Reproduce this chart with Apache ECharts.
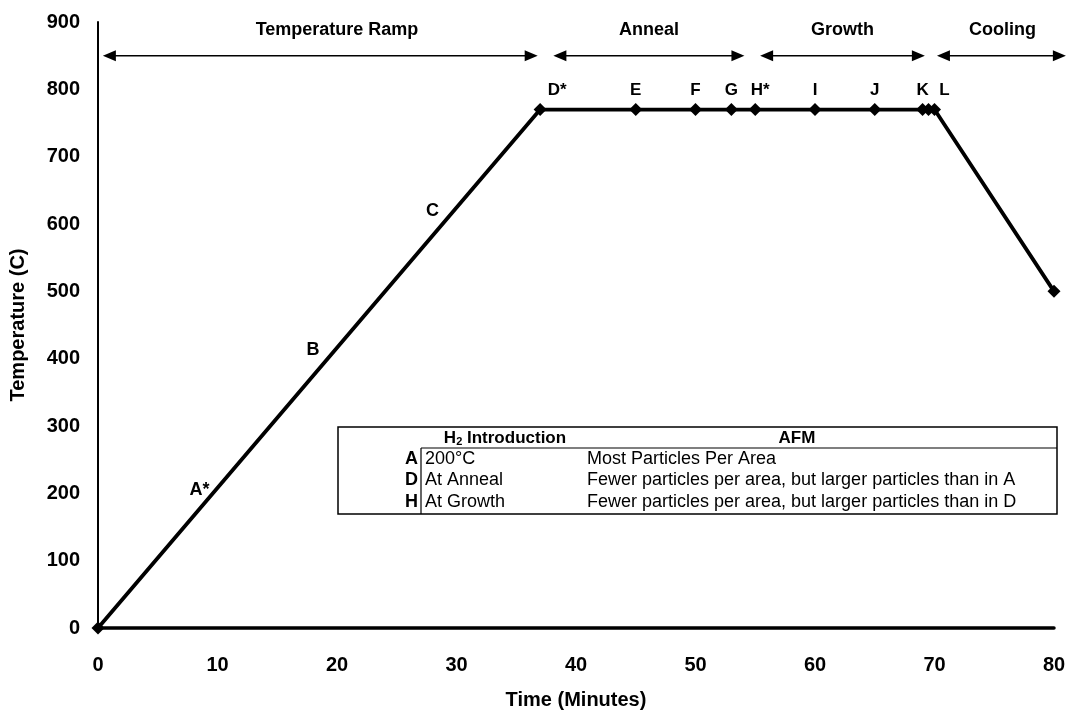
<!DOCTYPE html>
<html>
<head>
<meta charset="utf-8">
<script src="https://cdn.jsdelivr.net/npm/echarts@6/dist/echarts.min.js"></script>
<style>
html, body { margin: 0; padding: 0; background: #fff; }
#main { width: 1077px; height: 715px; }
</style>
</head>
<body>
<div id="main"></div>
<script>
"use strict";
var fontName = 'Liberation Sans';

// process profile
var times = [0, 37, 45, 50, 53, 55, 60, 65, 69, 69.5, 70, 80];
var temps = [0, 770, 770, 770, 770, 770, 770, 770, 770, 770, 770, 500];
var pointLabels = ['', 'D*', 'E', 'F', 'G', 'H*', 'I', 'J', 'K', '', 'L', ''];

// labels along the ramp
var rampLabels = ['A*', 'B', 'C'];
var rampTimes = [8.5, 18, 28];
var rampTemps = [205, 413, 620];

// stage arrows (arrow head centres) and their titles
var stageNames = ['Temperature Ramp', 'Anneal', 'Growth', 'Cooling'];
var stageStart = [0.95, 38.65, 55.95, 70.75];
var stageEnd = [36.25, 53.55, 68.65, 80.45];
var stageTitleX = [20, 46.1, 62.3, 75.7];
var stageLevel = 850;
var stageTitleLevel = 888;

// table
var tableHead = ['H₂ Introduction', 'AFM'];
var tableKeys = ['A', 'D', 'H'];
var tableCol1 = ['200°C', 'At Anneal', 'At Growth'];
var tableCol2 = ['Most Particles Per Area',
	'Fewer particles per area, but larger particles than in A',
	'Fewer particles per area, but larger particles than in D'];

function buildTable() {
	var x0 = 338, y0 = 427, w = 719, h = 87, split = 421, headH = 21, rowH = 21.5;
	var els = [];
	els.push({ type: 'rect', shape: { x: x0, y: y0, width: w, height: h },
		style: { fill: '#fff', stroke: '#000', lineWidth: 1.5 } });
	els.push({ type: 'line', shape: { x1: split, y1: y0 + headH, x2: x0 + w, y2: y0 + headH },
		style: { stroke: '#000', lineWidth: 1.2 } });
	els.push({ type: 'line', shape: { x1: split, y1: y0 + headH, x2: split, y2: y0 + h },
		style: { stroke: '#000', lineWidth: 1.2 } });
	els.push({ type: 'text', x: 505, y: y0 + 11, style: {
		text: '{b|H}{s|2}{b| Introduction}', align: 'center', verticalAlign: 'middle',
		rich: {
			b: { fontFamily: fontName, fontWeight: 'bold', fontSize: 17, fill: '#000' },
			s: { fontFamily: fontName, fontWeight: 'bold', fontSize: 11, fill: '#000', verticalAlign: 'bottom', padding: [7, 0, 0, 0] }
		} } });
	els.push({ type: 'text', x: 797, y: y0 + 11, style: {
		text: tableHead[1], align: 'center', verticalAlign: 'middle',
		font: 'bold 17px ' + fontName, fill: '#000' } });
	for (var i = 0; i < tableKeys.length; i++) {
		var yy = y0 + headH + rowH * i + 11;
		els.push({ type: 'text', x: split - 3, y: yy, style: {
			text: tableKeys[i], align: 'right', verticalAlign: 'middle',
			font: 'bold 18px ' + fontName, fill: '#000' } });
		els.push({ type: 'text', x: split + 4, y: yy, style: {
			text: tableCol1[i], align: 'left', verticalAlign: 'middle',
			font: '18px ' + fontName, fill: '#000' } });
		els.push({ type: 'text', x: 587, y: yy, style: {
			text: tableCol2[i], align: 'left', verticalAlign: 'middle',
			font: '18px ' + fontName, fill: '#000' } });
	}
	return els;
}

function tempChart() {
	var chart = echarts.init(document.getElementById('main'));

	var labelOffsets = { 'D*': [17, 0], 'H*': [5, 0], 'L': [10, 0] };
	var profile = times.map(function(t, i) {
		return {
			value: [t, temps[i]],
			label: {
				show: pointLabels[i] !== '',
				formatter: pointLabels[i],
				offset: labelOffsets[pointLabels[i]] || [0, 0]
			}
		};
	});

	var ramp = rampTimes.map(function(t, i) {
		return { value: [t, rampTemps[i]], label: { formatter: rampLabels[i] } };
	});

	var titles = stageTitleX.map(function(t, i) {
		return { value: [t, stageTitleLevel], label: { formatter: stageNames[i] } };
	});

	var textStyle = { fontFamily: fontName, fontWeight: 'bold', color: '#000' };

	var series = [{
		type: 'line',
		data: profile,
		symbol: 'diamond',
		symbolSize: 13,
		clip: false,
		lineStyle: { color: '#000', width: 3.8 },
		itemStyle: { color: '#000' },
		label: Object.assign({ position: 'top', distance: 4, fontSize: 17 }, textStyle),
		z: 3
	}, {
		type: 'scatter',
		data: ramp.concat(titles),
		symbolSize: 0,
		clip: false,
		itemStyle: { color: '#000', opacity: 1 },
		label: Object.assign({ show: true, position: 'inside', fontSize: 18 }, textStyle)
	}];

	// one double headed arrow per stage
	stageNames.forEach(function(n, i) {
		series.push({
			type: 'line',
			data: [
				{ value: [stageStart[i], stageLevel], symbolRotate: 90 },
				{ value: [stageEnd[i], stageLevel], symbolRotate: -90 }
			],
			symbol: 'triangle',
			symbolSize: [11, 13],
			clip: false,
			lineStyle: { color: '#000', width: 1.5 },
			itemStyle: { color: '#000' }
		});
	});

	chart.setOption({
		animation: false,
		grid: { left: 98, right: 23, top: 22, bottom: 87 },
		xAxis: {
			type: 'value', min: 0, max: 80, interval: 10,
			name: 'Time (Minutes)', nameLocation: 'middle', nameGap: 62,
			nameTextStyle: Object.assign({ fontSize: 20 }, textStyle),
			axisLine: { lineStyle: { color: '#000', width: 3.5 } },
			axisTick: { show: false },
			splitLine: { show: false },
			axisLabel: Object.assign({ fontSize: 20, margin: 27 }, textStyle)
		},
		yAxis: {
			type: 'value', min: 0, max: 900, interval: 100,
			name: 'Temperature (C)', nameLocation: 'middle', nameGap: 70,
			nameTextStyle: Object.assign({ fontSize: 20 }, textStyle),
			axisLine: { show: true, lineStyle: { color: '#000', width: 2 } },
			axisTick: { show: false },
			splitLine: { show: false },
			axisLabel: Object.assign({ fontSize: 20, margin: 18 }, textStyle)
		},
		series: series,
		graphic: buildTable()
	});
}

tempChart();
</script>
</body>
</html>
